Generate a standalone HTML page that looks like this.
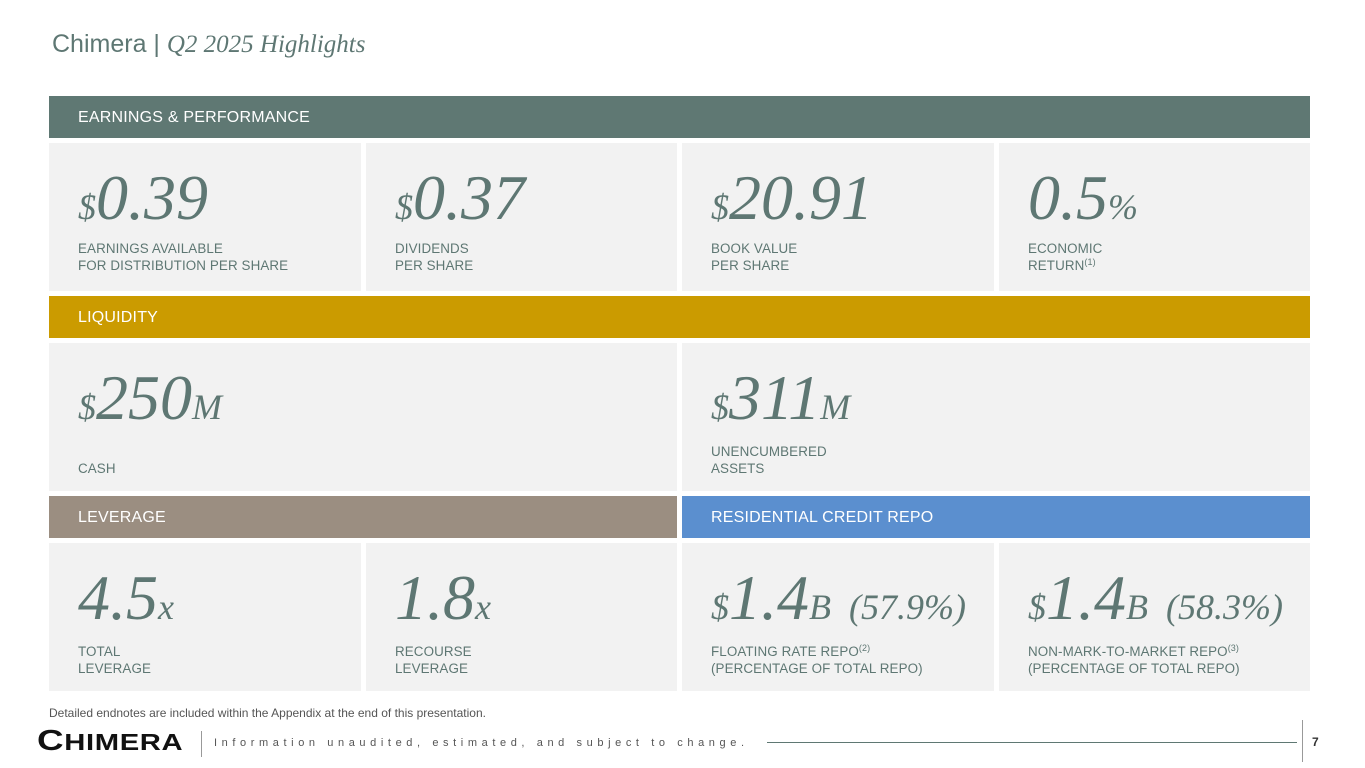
<!DOCTYPE html>
<html><head><meta charset="utf-8"><style>
*{margin:0;padding:0;box-sizing:border-box}
body{width:1365px;height:768px;background:#fff;position:relative;overflow:hidden;font-family:"Liberation Sans",sans-serif;color:#5e7773}
.abs{position:absolute}
.bar{position:absolute;height:42px;color:#fff;font-size:16px;line-height:44px;padding-left:29px;letter-spacing:.2px}
.tile{position:absolute;background:#f2f2f2;height:148px}
.num{position:absolute;left:29px;top:20px;font-family:"Liberation Serif",serif;font-style:italic;font-size:64px;line-height:70px;white-space:nowrap}
.num small{font-size:36px}
.lab{position:absolute;left:29px;font-size:13.4px;line-height:17px;letter-spacing:.1px}
sup{font-size:9px;line-height:0;vertical-align:5px}
</style></head><body>
<div class="abs" style="left:52px;top:30px;font-size:25px;color:#5e7773">Chimera | <span style="font-family:'Liberation Serif',serif;font-style:italic">Q2 2025 Highlights</span></div>

<div class="bar" style="left:49px;top:96px;width:1261px;background:#5f7873">EARNINGS &amp; PERFORMANCE</div>
<div class="tile" style="left:49px;top:143px;width:312px"><div class="num"><small>$</small>0.39</div><div class="lab" style="top:97px">EARNINGS AVAILABLE<br>FOR DISTRIBUTION PER SHARE</div></div>
<div class="tile" style="left:366px;top:143px;width:311px"><div class="num"><small>$</small>0.37</div><div class="lab" style="top:97px">DIVIDENDS<br>PER SHARE</div></div>
<div class="tile" style="left:682px;top:143px;width:312px"><div class="num"><small>$</small>20.91</div><div class="lab" style="top:97px">BOOK VALUE<br>PER SHARE</div></div>
<div class="tile" style="left:999px;top:143px;width:311px"><div class="num">0.5<small>%</small></div><div class="lab" style="top:97px">ECONOMIC<br>RETURN<sup>(1)</sup></div></div>

<div class="bar" style="left:49px;top:296px;width:1261px;background:#cb9b00">LIQUIDITY</div>
<div class="tile" style="left:49px;top:343px;width:628px"><div class="num"><small>$</small>250<small>M</small></div><div class="lab" style="top:117px">CASH</div></div>
<div class="tile" style="left:682px;top:343px;width:628px"><div class="num"><small>$</small>311<small>M</small></div><div class="lab" style="top:100px">UNENCUMBERED<br>ASSETS</div></div>

<div class="bar" style="left:49px;top:496px;width:628px;background:#9b8e81">LEVERAGE</div>
<div class="bar" style="left:682px;top:496px;width:628px;background:#5b8fcf">RESIDENTIAL CREDIT REPO</div>
<div class="tile" style="left:49px;top:543px;width:312px"><div class="num">4.5<small>x</small></div><div class="lab" style="top:100px">TOTAL<br>LEVERAGE</div></div>
<div class="tile" style="left:366px;top:543px;width:311px"><div class="num">1.8<small>x</small></div><div class="lab" style="top:100px">RECOURSE<br>LEVERAGE</div></div>
<div class="tile" style="left:682px;top:543px;width:312px"><div class="num"><small>$</small>1.4<small>B&nbsp; (57.9%)</small></div><div class="lab" style="top:100px">FLOATING RATE REPO<sup>(2)</sup><br>(PERCENTAGE OF TOTAL REPO)</div></div>
<div class="tile" style="left:999px;top:543px;width:311px"><div class="num"><small>$</small>1.4<small>B&nbsp; (58.3%)</small></div><div class="lab" style="top:100px">NON-MARK-TO-MARKET REPO<sup>(3)</sup><br>(PERCENTAGE OF TOTAL REPO)</div></div>

<div class="abs" style="left:49px;top:706px;font-size:12px;color:#555">Detailed endnotes are included within the Appendix at the end of this presentation.</div>
<div class="abs" style="left:37px;top:727px;font-size:29px;font-weight:bold;color:#111;letter-spacing:0.5px;line-height:28px;transform:scaleX(1.27);transform-origin:left">C<span style="font-size:23px">HIMERA</span></div>
<div class="abs" style="left:201px;top:731px;width:1px;height:26px;background:#999"></div>
<div class="abs" style="left:214px;top:737px;font-size:11px;letter-spacing:4.6px;color:#555">Information unaudited, estimated, and subject to change.</div>
<div class="abs" style="left:767px;top:742px;width:530px;height:1px;background:#5f7873"></div>
<div class="abs" style="left:1302px;top:720px;width:1px;height:42px;background:#999"></div>
<div class="abs" style="left:1312px;top:735px;font-size:12px;font-weight:bold;color:#333">7</div>
</body></html>
